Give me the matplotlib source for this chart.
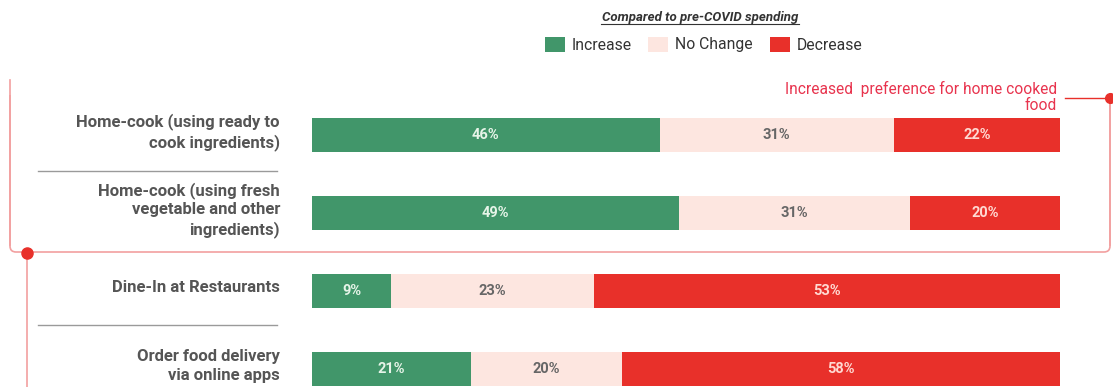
import matplotlib
matplotlib.use("Agg")
import matplotlib.pyplot as plt
from matplotlib.patches import FancyBboxPatch, Rectangle
import numpy as np

plt.rcParams['font.family'] = ['Roboto', 'DejaVu Sans']

# Survey data: change in spending compared to pre-COVID
categories = [
    "Home-cook (using ready to\ncook ingredients)",
    "Home-cook (using fresh\nvegetable and other\ningredients)",
    "Dine-In at Restaurants",
    "Order food delivery\nvia online apps",
]
increase = [46, 49, 9, 21]
no_change = [31, 31, 23, 20]
decrease = [22, 20, 53, 58]
series_names = ["Increase", "No Change", "Decrease"]

GREEN = "#41966a"
PINK = "#fde6e0"
RED = "#e8302a"
colors = [GREEN, PINK, RED]
text_colors = ["#e6f4e8", "#666666", "#ffd9d2"]
BOX = "#f2a0a0"

W, H = 1113, 387
fig = plt.figure(figsize=(W / 100, H / 100), dpi=100)

# Bar axes (100% stacked)
ax = fig.add_axes([312 / W, 0, 748 / W, 1])
row0, step = 135, 78
ax.set_ylim((H - row0) / step, -row0 / step)
ax.set_xlim(0, 100)
ax.axis("off")

data = np.array([increase, no_change, decrease], dtype=float)
totals = data.sum(axis=0)
shares = data / totals * 100
y = np.arange(len(categories))
left = np.zeros(len(categories))
for k in range(3):
    ax.barh(y, shares[k], left=left, height=34 / step, color=colors[k],
            edgecolor="none")
    for i in range(len(categories)):
        ax.text(left[i] + shares[k][i] / 2, y[i], f"{int(data[k][i])}%",
                ha="center", va="center", fontsize=10.5, fontweight="bold",
                color=text_colors[k])
    left += shares[k]

# Overlay for labels, legend and annotation, in pixel units
ov = fig.add_axes([0, 0, 1, 1], zorder=-1)
ov.set_xlim(0, W)
ov.set_ylim(H, 0)
ov.axis("off")

for i, cat in enumerate(categories):
    ov.text(280, row0 + step * i - 3, cat, ha="right", va="center",
            fontsize=12, fontweight="bold", color="#555555", linespacing=1.3)

# Separators between categories
for yy in (171, 325):
    ov.plot([38, 277], [yy, yy], color="#9a9a9a", lw=1)

# Bracket around the home-cook rows
ov.add_patch(FancyBboxPatch((10, 40), 1100, 212,
                            boxstyle="round,pad=0,rounding_size=6",
                            facecolor="none", edgecolor=BOX, lw=1.2))
ov.add_patch(Rectangle((0, 30), W, 65, facecolor="white", edgecolor="none",
                       zorder=1.5))
ov.plot([10, 10], [80, 245], color=BOX, lw=1.2, zorder=2)
ov.plot([1110, 1110], [98, 245], color=BOX, lw=1.2, zorder=2)
ov.plot([1065, 1110], [98, 98], color=RED, lw=1, zorder=2)
ov.plot([1110], [98], "o", color=RED, ms=7, zorder=3)

# Bracket around the eat-out rows
ov.plot([27, 27], [253, H], color=BOX, lw=1.2, zorder=2)
ov.plot([27], [253], "o", color=RED, ms=8, zorder=3)

ov.text(1057, 97, "Increased  preference for home cooked\nfood", ha="right",
        va="center", fontsize=11.2, color="#e8344e", linespacing=1.15, zorder=3)

# Legend title (underlined)
ov.text(700, 17, "Compared to pre-COVID spending", ha="center", va="center",
        fontsize=9.5, fontweight="bold", fontstyle="italic", color="#333333",
        zorder=3)
ov.plot([601, 799], [24, 24], color="#333333", lw=0.8, zorder=3)

# Legend entries
legend_x = [545, 648, 770]
for x0, name, c in zip(legend_x, series_names, colors):
    ov.add_patch(Rectangle((x0, 37), 20, 15, facecolor=c, edgecolor="none",
                           zorder=3))
    ov.text(x0 + 27, 45, name, ha="left", va="center", fontsize=11.3,
            color="#333333", zorder=3)

fig.savefig("out.png", dpi=100, facecolor="white")
